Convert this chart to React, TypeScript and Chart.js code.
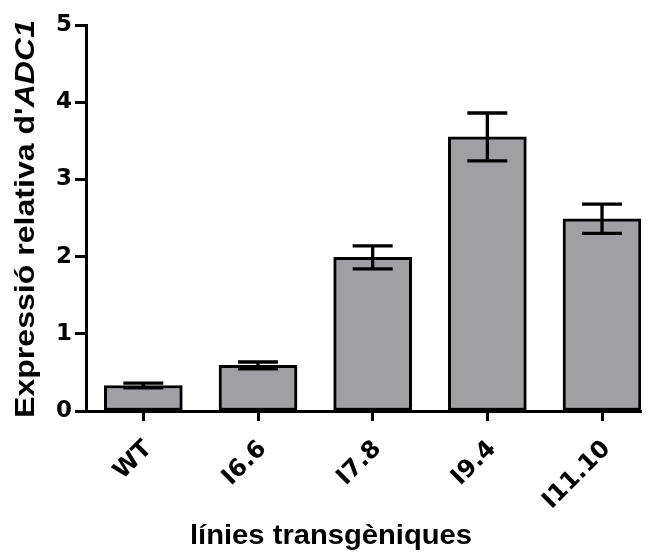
import React, { useEffect, useRef } from 'react';
import { Chart, registerables } from 'chart.js';
Chart.register(...registerables);

const CATEGORIES = ['WT', 'I6.6', 'I7.8', 'I9.4', 'I11.10'];
const MEANS = [0.33, 0.59, 1.99, 3.55, 2.49];
const ERRORS = [0.03, 0.045, 0.15, 0.31, 0.19];
const Y_MIN = 0;
const Y_MAX = 5;
const Y_STEP = 1;
const X_TITLE = 'línies transgèniques';
const Y_TITLE_PLAIN = "Expressió relativa d'";
const Y_TITLE_ITALIC = 'ADC1';

const FONT = '"Liberation Sans", Arial, Helvetica, sans-serif';
const TICK_FONT = '"DejaVu Sans", "Liberation Sans", Arial, sans-serif';

const errorBarPlugin = {
  id: 'errorBars',
  afterDatasetsDraw(chart: any) {
    const ctx = chart.ctx;
    const xs = chart.scales.x;
    const ys = chart.scales.y;
    ctx.save();
    ctx.strokeStyle = '#000';
    ctx.lineWidth = 3.3;
    ctx.lineCap = 'butt';
    MEANS.forEach((m, i) => {
      const x = xs.getPixelForValue(i);
      const top = ys.getPixelForValue(m + ERRORS[i]);
      const bot = ys.getPixelForValue(m - ERRORS[i]);
      const hw = 20;
      ctx.beginPath();
      ctx.moveTo(x, top);
      ctx.lineTo(x, bot);
      ctx.moveTo(x - hw, top);
      ctx.lineTo(x + hw, top);
      ctx.moveTo(x - hw, bot);
      ctx.lineTo(x + hw, bot);
      ctx.stroke();
    });
    ctx.restore();
  },
};

const titlesPlugin = {
  id: 'axisTitles',
  afterDraw(chart: any) {
    const ctx = chart.ctx;
    ctx.save();
    ctx.fillStyle = '#000';
    // x title, stretched horizontally to the reference width
    ctx.font = `bold 28px ${FONT}`;
    ctx.textAlign = 'left';
    ctx.textBaseline = 'alphabetic';
    const xw = ctx.measureText(X_TITLE).width;
    const xTarget = 282;
    const sx = xTarget / xw;
    ctx.save();
    ctx.translate(331 - xTarget / 2, 544);
    ctx.scale(sx, 1);
    ctx.fillText(X_TITLE, 0, 0);
    ctx.restore();
    // y title (mixed style), stretched along its direction
    const plainFont = `bold 28px ${FONT}`;
    const italFont = `italic bold 28px ${FONT}`;
    ctx.font = plainFont;
    const w1 = ctx.measureText(Y_TITLE_PLAIN).width;
    ctx.font = italFont;
    const w2 = ctx.measureText(Y_TITLE_ITALIC).width;
    const total = w1 + w2;
    const yTarget = 398;
    const sy = yTarget / total;
    ctx.save();
    ctx.translate(34, 219);
    ctx.rotate(-Math.PI / 2);
    ctx.scale(sy, 1);
    ctx.font = plainFont;
    ctx.fillText(Y_TITLE_PLAIN, -total / 2, 0);
    ctx.font = italFont;
    ctx.fillText(Y_TITLE_ITALIC, -total / 2 + w1, 0);
    ctx.restore();
    ctx.restore();
  },
};

export default function App() {
  const ref = useRef<HTMLCanvasElement | null>(null);
  useEffect(() => {
    if (!ref.current) return;
    const chart = new Chart(ref.current, {
      type: 'bar',
      data: {
        datasets: [
          {
            data: MEANS.map((v, i) => ({ x: i, y: v })),
            backgroundColor: '#a09fa4',
            borderColor: '#000',
            borderWidth: 3,
            borderSkipped: false,
            barThickness: 78,
          },
        ],
      },
      options: {
        animation: false,
        responsive: false,
        maintainAspectRatio: false,
        layout: { padding: { top: 25, right: 8, left: 0, bottom: 0 } },
        plugins: {
          legend: { display: false },
          tooltip: { enabled: false },
          title: { display: false },
        },
        scales: {
          x: {
            type: 'linear',
            offset: false,
            min: -0.5,
            max: 4.34,
            afterBuildTicks: (s: any) => {
              s.ticks = CATEGORIES.map((_, i) => ({ value: i }));
            },
            afterFit: (s: any) => {
              s.height = 141;
            },
            ticks: {
              autoSkip: false,
              maxRotation: 45,
              minRotation: 45,
              padding: 14,
              labelOffset: 5,
              color: '#000',
              font: { family: TICK_FONT, size: 24, weight: 'bold' },
              callback: (v: any) => CATEGORIES[Math.round(Number(v))] ?? '',
            },
            grid: {
              offset: false,
              drawOnChartArea: false,
              drawTicks: true,
              tickLength: 10,
              tickWidth: 3,
              tickColor: '#000',
            },
            border: { color: '#000', width: 3 },
          },
          y: {
            min: Y_MIN,
            max: Y_MAX,
            afterFit: (s: any) => {
              s.width = 86;
            },
            ticks: {
              stepSize: Y_STEP,
              padding: 3,
              color: '#000',
              font: { family: TICK_FONT, size: 23, weight: 'bold' },
            },
            grid: {
              drawOnChartArea: false,
              drawTicks: true,
              tickLength: 11,
              tickWidth: 3,
              tickColor: '#000',
            },
            border: { color: '#000', width: 3 },
          },
        },
      } as any,
      plugins: [errorBarPlugin, titlesPlugin],
    });
    return () => chart.destroy();
  }, []);
  return (
    <div style={{ position: 'absolute', left: 0, top: 0, width: 649, height: 552 }}>
      <canvas ref={ref} width={649} height={552} />
    </div>
  );
}
